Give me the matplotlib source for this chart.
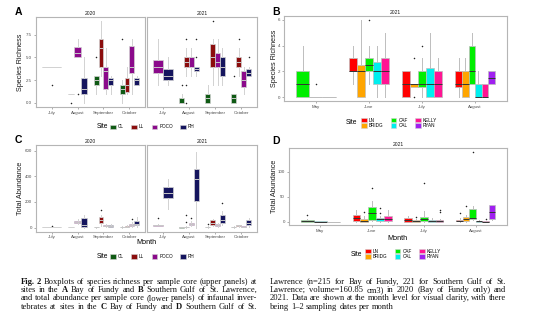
"""Boxplots of species richness / total abundance per sample core (Fig. 2)."""

import matplotlib

matplotlib.use("Agg")
import matplotlib.pyplot as plt
from matplotlib.patches import Patch

W, H = 554, 327
SANS = ["Liberation Sans", "DejaVu Sans"]
SERIF = ["Liberation Serif", "DejaVu Serif"]
plt.rcParams["font.family"] = SANS

# ---- data ----
months_bof = ["July", "August", "September", "October"]
months_sgsl = ["May", "June", "July", "August"]
sites_bof = ["CL", "LL", "POCO", "RH"]
sites_sgsl = ["LN", "BRIDG", "CAF", "CAL", "KELLY", "RYAN"]
colors_bof = ["#0f5a14", "#8b0d0d", "#8b0a8b", "#15155e"]
colors_sgsl = ["#ff0000", "#ffa500", "#00ee00", "#00eeee", "#ff1493", "#a020f0"]

# rows: (month, site, whislo, q1, median, q3, whishi, outliers)
rich_bof_2020 = [
    ("July", "LL", 4, 4, 4, 4, 4, [2]),
    ("August", "CL", 1, 1, 1, 1, 1, [0]),
    ("August", "POCO", 5, 5.1, 5.5, 6.1, 7, [1]),
    ("August", "RH", 0, 1, 1.5, 2.75, 5, []),
    ("September", "CL", 1, 2, 2.5, 3, 3, [5]),
    ("September", "LL", 3, 4, 6, 7, 9, []),
    ("September", "POCO", 1, 1.5, 3.5, 4, 6, []),
    ("September", "RH", 1, 2, 2.5, 2.75, 3, []),
    ("October", "CL", 0, 1, 1.5, 2, 2.5, [7]),
    ("October", "LL", 1, 1.25, 2, 2.75, 4, []),
    ("October", "POCO", 1, 3.25, 4, 6.25, 7, []),
    ("October", "RH", 2, 2, 2.5, 2.75, 3, []),
]
rich_bof_2021 = [
    ("July", "POCO", 2, 3.25, 4, 4.75, 7, []),
    ("July", "RH", 2, 2.5, 3, 3.75, 5, []),
    ("August", "CL", 0, 0, 0, 0.5, 1, [2]),
    ("August", "LL", 3, 4, 4.5, 5, 6, [7, 2, 0]),
    ("August", "POCO", 3, 4, 5, 5, 6, []),
    ("August", "RH", 3, 3.5, 3.75, 4, 4, [5, 7]),
    ("September", "CL", 0, 0, 0.5, 1, 2, []),
    ("September", "LL", 2, 4, 5, 6.5, 7, [9]),
    ("September", "POCO", 2, 4, 4.5, 5.5, 7, []),
    ("September", "RH", 2, 3, 4, 5, 6, []),
    ("October", "CL", 0, 0, 0.5, 1, 1, [3]),
    ("October", "LL", 3, 4, 4.5, 5, 6, [7]),
    ("October", "POCO", 1, 1.75, 2.5, 3.5, 4, []),
    ("October", "RH", 3, 3, 3.25, 3.75, 4, [5]),
]
rich_sgsl_2021 = [
    ("May", "CAF", 0, 0, 1, 2, 4, []),
    ("May", "CAL", 0, 0, 0, 0, 0, [1]),
    ("May", "KELLY", 0, 0, 0, 0, 0, []),
    ("June", "LN", 1, 2, 2, 3, 4, []),
    ("June", "BRIDG", 0, 0, 2, 2.5, 6, []),
    ("June", "CAF", 1, 2, 2.5, 3, 4, [6]),
    ("June", "CAL", 0, 1, 2, 2.75, 4, []),
    ("June", "KELLY", 0, 1, 2, 3, 5, []),
    ("July", "LN", 0, 0, 1, 2, 2, []),
    ("July", "BRIDG", 0.75, 0.75, 1, 1, 1, [3, 0]),
    ("July", "CAF", 0, 0.75, 1, 2, 3, [4]),
    ("July", "CAL", 0, 0, 1, 2.25, 5, []),
    ("July", "KELLY", 0, 0, 1, 2, 3, []),
    ("August", "LN", 0, 0.75, 1, 2, 3, []),
    ("August", "BRIDG", 0, 0, 1, 2, 3, []),
    ("August", "CAF", 1, 1, 2, 4, 5, []),
    ("August", "CAL", 0, 0, 0, 1, 2, []),
    ("August", "KELLY", 0, 0, 0, 1, 1, []),
    ("August", "RYAN", 1, 1, 1.5, 2, 2, []),
]
abund_bof_2020 = [
    ("July", "LL", 5, 5, 5, 5, 5, [10]),
    ("August", "CL", 3, 3, 3, 3, 3, []),
    ("August", "POCO", 25, 38, 45, 50, 70, []),
    ("August", "RH", 0, 8, 20, 78, 100, []),
    ("September", "CL", 0, 2, 3, 5, 8, []),
    ("September", "LL", 15, 35, 55, 80, 100, [135]),
    ("September", "POCO", 5, 10, 15, 20, 30, []),
    ("September", "RH", 5, 8, 12, 18, 25, []),
    ("October", "CL", 0, 2, 4, 6, 10, []),
    ("October", "LL", 3, 6, 8, 12, 18, []),
    ("October", "POCO", 5, 15, 20, 30, 40, [65]),
    ("October", "RH", 5, 20, 30, 50, 85, []),
]
abund_bof_2021 = [
    ("July", "POCO", 10, 15, 18, 22, 30, [75]),
    ("July", "RH", 145, 230, 270, 320, 380, []),
    ("August", "CL", 0, 0, 2, 4, 6, []),
    ("August", "LL", 0, 3, 5, 8, 12, [100, 40]),
    ("August", "POCO", 15, 22, 28, 35, 50, [75]),
    ("August", "RH", 0, 205, 380, 460, 590, []),
    ("September", "CL", 0, 2, 3, 6, 10, [25]),
    ("September", "LL", 10, 22, 35, 55, 70, []),
    ("September", "POCO", 5, 12, 18, 25, 35, []),
    ("September", "RH", 20, 35, 60, 95, 130, [190]),
    ("October", "CL", 0, 3, 5, 8, 12, []),
    ("October", "LL", 8, 14, 16, 18, 20, []),
    ("October", "POCO", 2, 6, 8, 10, 14, []),
    ("October", "RH", 5, 20, 35, 55, 75, []),
]
abund_sgsl_2021 = [
    ("May", "CAF", 0, 0, 2, 4, 6, [14]),
    ("May", "CAL", 0, 0, 0, 1, 2, []),
    ("May", "KELLY", 0, 0, 0, 0, 0, []),
    ("June", "LN", 0, 2, 8, 14, 24, []),
    ("June", "BRIDG", 0, 0, 2, 5, 12, [20]),
    ("June", "CAF", 2, 4, 17, 29, 42, [68]),
    ("June", "CAL", 0, 1, 5, 7, 12, [28, 17]),
    ("June", "KELLY", 0, 1, 6, 12, 24, []),
    ("July", "LN", 0, 0, 3, 7, 11, []),
    ("July", "BRIDG", 0, 0, 2, 4, 6, [10]),
    ("July", "CAF", 0, 2, 5, 9, 22, [77]),
    ("July", "CAL", 0, 0, 2, 4, 8, []),
    ("July", "KELLY", 0, 0, 1, 3, 5, [24, 19]),
    ("August", "LN", 0, 1, 2, 4, 8, [17]),
    ("August", "BRIDG", 0, 2, 6, 10, 14, [32]),
    ("August", "CAF", 3, 5, 8, 25, 32, [140]),
    ("August", "CAL", 0, 0, 1, 2, 4, []),
    ("August", "KELLY", 0, 0, 0, 1, 2, [6]),
    ("August", "RYAN", 3, 5, 19, 33, 33, []),
]

caption_left = [
    "*Fig. *2 Boxplots of species richness per sample core (upper panels) at",
    "sites in the *A Bay of Fundy and *B Southern Gulf of St. Lawrence,",
    "and total abundance per sample core (lower panels) of infaunal inver-",
    "tebrates at sites in the *C Bay of Fundy and *D Southern Gulf of St.",
]
caption_right = [
    "Lawrence (n=215 for Bay of Fundy, 221 for Southern Gulf of St.",
    "Lawrence; volume=160.85 cm3) in 2020 (Bay of Fundy only) and",
    "2021. Data are shown at the month level for visual clarity, with there",
    "being 1\u20132 sampling dates per month",
]


def fx(x):
    return x / W


def fy(y):
    return 1 - y / H


fig = plt.figure(figsize=(W / 100, H / 100), dpi=100)


def panel(x0, x1, y0, y1):
    ax = fig.add_axes([fx(x0), fy(y1), (x1 - x0) / W, (y1 - y0) / H])
    for s in ax.spines.values():
        s.set_color("#b5b5b5")
        s.set_linewidth(0.8)
    ax.tick_params(length=1.6, width=0.5, color="#8c8c8c", labelsize=3.2,
                   labelcolor="#4d4d4d", pad=1.2)
    ax.set_xlim(0.4, 4.6)
    return ax


def draw_boxes(ax, rows, months, sites, colors, med_color, line_color):
    cmap = dict(zip(sites, colors))
    for m_i, month in enumerate(months, start=1):
        group = [r for r in rows if r[0] == month]
        if not group:
            continue
        n = len(group)
        w = 0.75 / n
        stats, pos, fills, meds = [], [], [], []
        for k, (_, site, lo, q1, med, q3, hi, fl) in enumerate(group):
            stats.append(dict(whislo=lo, q1=q1, med=med, q3=q3, whishi=hi, fliers=fl))
            pos.append(m_i + (k - (n - 1) / 2) * w)
            fills.append(cmap[site])
            meds.append(line_color if q1 == q3 else med_color)
        bp = ax.bxp(
            stats, positions=pos, widths=w, patch_artist=True, showcaps=False,
            manage_ticks=False,
            boxprops=dict(edgecolor=line_color, linewidth=0.5),
            whiskerprops=dict(color=line_color, linewidth=0.7),
            medianprops=dict(linewidth=0.7),
            flierprops=dict(marker="o", markersize=1.1, markerfacecolor="#222222",
                            markeredgecolor="none"),
        )
        for patch, c in zip(bp["boxes"], fills):
            patch.set_facecolor(c)
        for line, c in zip(bp["medians"], meds):
            line.set_color(c)


def facet(ax, title, months, ylim, yticks, ylabels):
    ax.set_title(title, fontsize=3.6, pad=1.6, color="#1a1a1a")
    ax.set_xticks(range(1, 5), months)
    ax.set_ylim(*ylim)
    if ylabels is None:
        ax.set_yticks([])
    else:
        ax.set_yticks(yticks, ylabels)


# A: species richness, Bay of Fundy
a20 = panel(36, 145, 17, 107)
a21 = panel(147, 257, 17, 107)
draw_boxes(a20, rich_bof_2020, months_bof, sites_bof, colors_bof, "#c8c8c8", "#d2d2d2")
draw_boxes(a21, rich_bof_2021, months_bof, sites_bof, colors_bof, "#c8c8c8", "#d2d2d2")
rich_ticks = [0, 2.5, 5, 7.5]
facet(a20, "2020", months_bof, (-0.45, 9.45), rich_ticks, ["0.0", "2.5", "5.0", "7.5"])
facet(a21, "2021", months_bof, (-0.45, 9.45), rich_ticks, None)

# B: species richness, Southern Gulf of St. Lawrence
b = panel(284, 507, 16, 101)
draw_boxes(b, rich_sgsl_2021, months_sgsl, sites_sgsl, colors_sgsl, "#333333", "#bdbdbd")
facet(b, "2021", months_sgsl, (-0.3, 6.3), [0, 2, 4, 6], ["0", "2", "4", "6"])

# C: total abundance, Bay of Fundy
c20 = panel(36, 145, 145, 231.5)
c21 = panel(147, 257, 145, 231.5)
draw_boxes(c20, abund_bof_2020, months_bof, sites_bof, colors_bof, "#c8c8c8", "#d2d2d2")
draw_boxes(c21, abund_bof_2021, months_bof, sites_bof, colors_bof, "#c8c8c8", "#d2d2d2")
ab_ticks = [0, 200, 400, 600]
facet(c20, "2020", months_bof, (-31, 645), ab_ticks, [str(t) for t in ab_ticks])
facet(c21, "2021", months_bof, (-31, 645), ab_ticks, None)

# D: total abundance, Southern Gulf of St. Lawrence
d = panel(289, 507, 148, 225)
draw_boxes(d, abund_sgsl_2021, months_sgsl, sites_sgsl, colors_sgsl, "#333333", "#bdbdbd")
facet(d, "2021", months_sgsl, (-7, 147), [0, 50, 100], ["0", "50", "100"])

# axis titles and panel letters
ylab = dict(fontsize=5.2, rotation=90, ha="center", va="center", color="#1a1a1a")
fig.text(fx(20.5), fy(62), "Species Richness", **ylab)
fig.text(fx(274), fy(58), "Species Richness", **ylab)
fig.text(fx(20.5), fy(188), "Total Abundance", **ylab)
fig.text(fx(274), fy(186), "Total Abundance", **ylab)
fig.text(fx(146.5), fy(243), "Month", fontsize=5.2, ha="center", va="center")
fig.text(fx(397), fy(238.5), "Month", fontsize=5.2, ha="center", va="center")
for lbl, x, y in [("A", 15, 12), ("B", 272, 12), ("C", 15, 140), ("D", 272, 141)]:
    fig.text(fx(x), fy(y), lbl, fontsize=7.5, weight="bold", ha="left", va="center")


# legends
def site_legend(sites, colors, x_site, x_keys, y, ncol):
    handles = [Patch(facecolor=c, edgecolor="#d2d2d2", linewidth=0.4, label=s)
               for s, c in zip(sites, colors)]
    fig.text(fx(x_site), fy(y), "Site", fontsize=4.8, ha="right", va="center")
    fig.legend(handles=handles, loc="center left", bbox_to_anchor=(fx(x_keys), fy(y)),
               ncol=ncol, frameon=False, fontsize=3.3, handlelength=1.2,
               handleheight=1.2, handletextpad=0.5, columnspacing=1.6,
               labelspacing=0.15, borderpad=0, borderaxespad=0)


site_legend(sites_bof, colors_bof, 108, 110, 127, 4)
site_legend(sites_bof, colors_bof, 108, 110, 256.5, 4)
site_legend(sites_sgsl, colors_sgsl, 357, 361, 123, 3)
site_legend(sites_sgsl, colors_sgsl, 362, 365, 254, 3)


# caption, justified like the journal layout
def caption_column(lines, x0, x1, y0, dy, fs, justify_last):
    r = fig.canvas.get_renderer()
    space = fs * 100 / 72 * 0.25
    for i, line in enumerate(lines):
        toks = line.split(" ")
        arts = []
        for t in toks:
            bold = t.startswith("*")
            arts.append(fig.text(0, 0, t.lstrip("*"), fontsize=fs, family=SERIF,
                                 weight="bold" if bold else "normal",
                                 va="baseline", ha="left", color="#111111"))
        widths = [a.get_window_extent(r).width for a in arts]
        last = i == len(lines) - 1
        if len(arts) > 1 and (justify_last or not last):
            gap = (x1 - x0 - sum(widths)) / (len(arts) - 1)
        else:
            gap = space
        x = x0
        for a, w in zip(arts, widths):
            a.set_position((fx(x), fy(y0 + i * dy)))
            x += w + gap


caption_column(caption_left, 20.5, 257, 283.5, 8.4, 6.1, True)
caption_column(caption_right, 270, 506, 283.5, 8.4, 6.1, False)

fig.savefig("out.png", dpi=100)
